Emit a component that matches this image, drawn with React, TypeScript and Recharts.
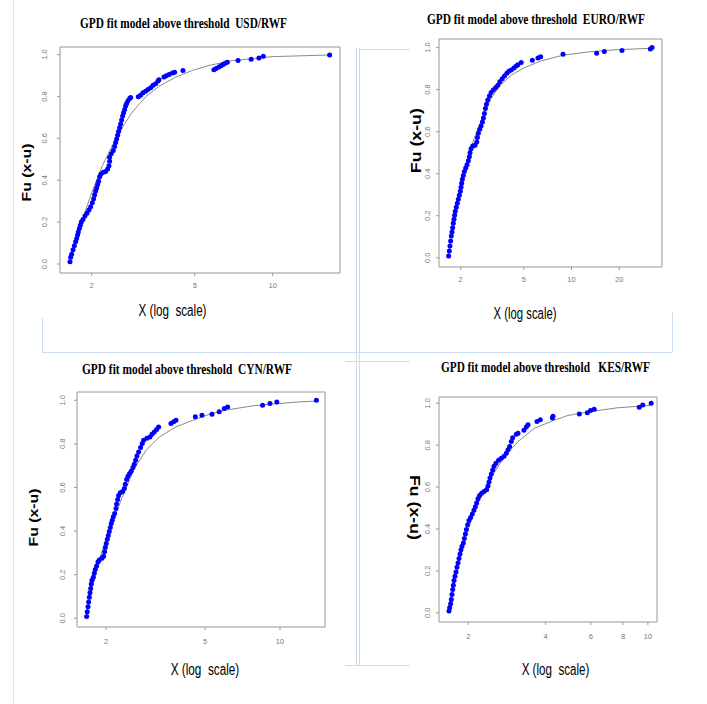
import React from 'react';
import { ScatterChart, Scatter, XAxis, YAxis, ReferenceArea } from 'recharts';

// [x, Fu(x-u)]
const usdPoints: [number, number][] = [
  [1.649, 0.011], [1.659, 0.032], [1.674, 0.047], [1.694, 0.068], [1.714, 0.087], [1.734, 0.106],
  [1.75, 0.122], [1.765, 0.138], [1.776, 0.153], [1.792, 0.169], [1.808, 0.185], [1.824, 0.201],
  [1.851, 0.213], [1.884, 0.229], [1.918, 0.242], [1.952, 0.258], [1.982, 0.273], [2.011, 0.292],
  [2.035, 0.311], [2.053, 0.33], [2.072, 0.348], [2.09, 0.363], [2.109, 0.379], [2.128, 0.395],
  [2.147, 0.416], [2.172, 0.43], [2.218, 0.438], [2.264, 0.442], [2.305, 0.453], [2.332, 0.469],
  [2.346, 0.49], [2.346, 0.51], [2.381, 0.526], [2.424, 0.542], [2.453, 0.561], [2.475, 0.58],
  [2.497, 0.597], [2.519, 0.615], [2.541, 0.632], [2.564, 0.651], [2.587, 0.668], [2.61, 0.687],
  [2.633, 0.706], [2.657, 0.722], [2.681, 0.738], [2.705, 0.754], [2.729, 0.766], [2.762, 0.779],
  [2.803, 0.79], [2.828, 0.795], [3.028, 0.798], [3.091, 0.806], [3.156, 0.817], [3.232, 0.825],
  [3.299, 0.833], [3.379, 0.842], [3.45, 0.853], [3.532, 0.861], [3.606, 0.874], [3.639, 0.88],
  [3.804, 0.893], [3.884, 0.899], [3.977, 0.905], [4.097, 0.912], [4.183, 0.916], [4.503, 0.924],
  [5.93, 0.927], [6.05, 0.933], [6.2, 0.94], [6.32, 0.946], [6.43, 0.953], [6.55, 0.958],
  [6.68, 0.963], [7.35, 0.971], [8.26, 0.978], [8.85, 0.984], [9.2, 0.992], [16.6, 0.998],
];
const usdCurve: [number, number][] = [
  [1.64, 0], [1.72, 0.09], [1.8, 0.17], [1.88, 0.245], [2.0, 0.34], [2.2, 0.47], [2.4, 0.565],
  [2.67, 0.665], [2.87, 0.725], [3.23, 0.798], [3.64, 0.848], [4.22, 0.892], [4.89, 0.924],
  [5.68, 0.948], [6.98, 0.971], [10, 0.99], [16.7, 0.998],
];

const euroPoints: [number, number][] = [
  [1.679, 0.008], [1.696, 0.032], [1.712, 0.056], [1.729, 0.08], [1.746, 0.103], [1.763, 0.122],
  [1.78, 0.143], [1.797, 0.164], [1.814, 0.183], [1.832, 0.202], [1.85, 0.221], [1.877, 0.24],
  [1.905, 0.259], [1.933, 0.278], [1.961, 0.297], [1.99, 0.316], [2.01, 0.335], [2.029, 0.354],
  [2.049, 0.373], [2.079, 0.392], [2.11, 0.411], [2.151, 0.427], [2.193, 0.443], [2.236, 0.462],
  [2.269, 0.481], [2.291, 0.5], [2.325, 0.519], [2.382, 0.532], [2.465, 0.535], [2.526, 0.551],
  [2.55, 0.572], [2.587, 0.592], [2.638, 0.611], [2.69, 0.627], [2.743, 0.646], [2.783, 0.665],
  [2.824, 0.687], [2.865, 0.71], [2.908, 0.73], [2.964, 0.751], [3.037, 0.77], [3.112, 0.786],
  [3.22, 0.799], [3.331, 0.81], [3.43, 0.821], [3.531, 0.837], [3.653, 0.852], [3.779, 0.865],
  [3.909, 0.878], [4.025, 0.887], [4.164, 0.894], [4.329, 0.903], [4.479, 0.913], [4.589, 0.919],
  [4.818, 0.929], [5.66, 0.94], [6.14, 0.951], [6.39, 0.957], [8.84, 0.968], [14.4, 0.973],
  [16.1, 0.981], [20.8, 0.986], [31.4, 0.994], [32.2, 1.0],
];
const euroCurve: [number, number][] = [
  [1.66, 0], [1.8, 0.15], [2.0, 0.32], [2.2, 0.45], [2.38, 0.548], [2.69, 0.651], [3.04, 0.746],
  [3.52, 0.818], [4.17, 0.869], [5.06, 0.905], [6.45, 0.937], [8.85, 0.964], [13, 0.98],
  [19.3, 0.99], [32.2, 0.997],
];

const cynPoints: [number, number][] = [
  [1.673, 0.008], [1.683, 0.03], [1.694, 0.053], [1.704, 0.075], [1.715, 0.096], [1.725, 0.117],
  [1.736, 0.137], [1.746, 0.157], [1.757, 0.175], [1.779, 0.188], [1.795, 0.206], [1.812, 0.224],
  [1.834, 0.24], [1.857, 0.258], [1.88, 0.267], [1.927, 0.275], [1.957, 0.285], [1.975, 0.305],
  [1.988, 0.325], [2.006, 0.343], [2.025, 0.362], [2.044, 0.38], [2.062, 0.398], [2.082, 0.417],
  [2.101, 0.435], [2.12, 0.45], [2.14, 0.466], [2.167, 0.481], [2.194, 0.504], [2.207, 0.524],
  [2.228, 0.545], [2.248, 0.563], [2.283, 0.576], [2.333, 0.582], [2.369, 0.595], [2.391, 0.615],
  [2.421, 0.637], [2.451, 0.652], [2.489, 0.664], [2.527, 0.676], [2.567, 0.692], [2.598, 0.707],
  [2.631, 0.725], [2.663, 0.744], [2.705, 0.763], [2.755, 0.783], [2.798, 0.802], [2.833, 0.817],
  [2.92, 0.826], [3.004, 0.832], [3.06, 0.844], [3.127, 0.855], [3.195, 0.866], [3.254, 0.878],
  [3.648, 0.893], [3.739, 0.901], [3.82, 0.908], [4.57, 0.924], [4.86, 0.931], [5.33, 0.936],
  [5.7, 0.947], [5.97, 0.962], [6.16, 0.969], [8.51, 0.977], [9.11, 0.985], [9.71, 0.992],
  [14.0, 1.0],
];
const cynCurve: [number, number][] = [
  [1.66, 0], [1.76, 0.14], [1.88, 0.27], [2.06, 0.404], [2.33, 0.557], [2.6, 0.687], [2.9, 0.771],
  [3.28, 0.832], [3.82, 0.878], [4.46, 0.908], [5.2, 0.936], [6.07, 0.955], [7.82, 0.975],
  [12, 0.993], [14, 0.996],
];

const kesPoints: [number, number][] = [
  [1.682, 0.008], [1.692, 0.024], [1.707, 0.043], [1.718, 0.063], [1.728, 0.087], [1.739, 0.111],
  [1.749, 0.132], [1.76, 0.154], [1.775, 0.174], [1.791, 0.195], [1.807, 0.217], [1.824, 0.238],
  [1.84, 0.259], [1.857, 0.281], [1.873, 0.301], [1.89, 0.317], [1.913, 0.333], [1.93, 0.354],
  [1.948, 0.376], [1.965, 0.397], [1.988, 0.42], [2.012, 0.44], [2.042, 0.455], [2.073, 0.471],
  [2.104, 0.489], [2.13, 0.506], [2.155, 0.524], [2.181, 0.544], [2.213, 0.56], [2.254, 0.57],
  [2.302, 0.579], [2.358, 0.587], [2.386, 0.605], [2.408, 0.624], [2.429, 0.643], [2.458, 0.662],
  [2.488, 0.682], [2.518, 0.7], [2.562, 0.714], [2.624, 0.728], [2.689, 0.738], [2.754, 0.747],
  [2.812, 0.762], [2.855, 0.778], [2.897, 0.794], [2.941, 0.817], [2.976, 0.836], [3.075, 0.852],
  [3.122, 0.857], [3.293, 0.871], [3.363, 0.887], [3.414, 0.897], [3.701, 0.913], [3.813, 0.922],
  [4.25, 0.93], [4.272, 0.938], [5.41, 0.949], [5.81, 0.955], [5.98, 0.965], [6.18, 0.971],
  [9.25, 0.981], [9.55, 0.992], [10.3, 1.0],
];
const kesCurve: [number, number][] = [
  [1.66, 0], [1.8, 0.2], [1.95, 0.36], [2.1, 0.48], [2.39, 0.625], [2.77, 0.746], [3.12, 0.817],
  [3.62, 0.881], [4.34, 0.92], [4.89, 0.942], [5.94, 0.96], [7.55, 0.978], [10.2, 0.99],
];

const yTicks = [0, 0.2, 0.4, 0.6, 0.8, 1.0];
const usdTicks = [2, 5, 10];
const euroTicks = [2, 5, 10, 20];
const cynTicks = [2, 5, 10];
const kesTicks = [2, 4, 6, 8, 10];

const toRows = (pts: [number, number][]) => pts.map(([x, y]) => ({ x, y }));

const PAD_L = 30;
const PAD_R = 6;
const PAD_T = 6;
const PAD_B = 26;
const tickFont = "'Liberation Sans', Arial, sans-serif";

interface PanelProps {
  left: number;
  top: number;
  width: number;
  height: number;
  xDomain: [number, number];
  yDomain: [number, number];
  xTicks: number[];
  points: [number, number][];
  curve: [number, number][];
  xLabelGap: number;
  yLabelGap: number;
}

function Panel(p: PanelProps) {
  const W = p.width + PAD_L + PAD_R;
  const H = p.height + PAD_T + PAD_B;
  return (
    <div style={{ position: 'absolute', left: p.left - PAD_L, top: p.top - PAD_T }}>
      <ScatterChart width={W} height={H} margin={{ top: PAD_T, right: PAD_R, left: 0, bottom: 0 }}>
        <XAxis
          type="number"
          dataKey="x"
          scale="log"
          domain={p.xDomain}
          allowDataOverflow
          ticks={p.xTicks}
          interval={0}
          height={PAD_B}
          axisLine={false}
          tickLine={{ stroke: '#999' }}
          tickSize={3}
          tickMargin={0}
          tick={(t: any) => (
            <text x={t.x} y={t.y - 3 + p.xLabelGap} textAnchor="middle" dominantBaseline="central"
              fontSize={7.5} fill="#777" fontFamily={tickFont}>
              {t.payload.value}
            </text>
          )}
        />
        <YAxis
          type="number"
          dataKey="y"
          domain={p.yDomain}
          allowDataOverflow
          ticks={yTicks}
          interval={0}
          width={PAD_L}
          axisLine={false}
          tickLine={{ stroke: '#999' }}
          tickSize={3}
          tickMargin={0}
          tick={(t: any) => {
            const bx = t.x + 3 - p.yLabelGap;
            return (
              <text x={bx} y={t.y} transform={`rotate(-90 ${bx} ${t.y})`} textAnchor="middle"
                fontSize={7.5} fill="#777" fontFamily={tickFont}>
                {Number(t.payload.value).toFixed(1)}
              </text>
            );
          }}
        />
        <ReferenceArea x1={p.xDomain[0]} x2={p.xDomain[1]} y1={p.yDomain[0]} y2={p.yDomain[1]}
          fill="none" fillOpacity={0} stroke="#969696" strokeWidth={1} ifOverflow="visible" />
        <Scatter data={toRows(p.curve)} line={{ stroke: '#8a8a8a', strokeWidth: 1 }}
          shape={() => <g />} isAnimationActive={false} />
        <Scatter data={toRows(p.points)} isAnimationActive={false}
          shape={(s: any) => <circle cx={s.cx} cy={s.cy} r={2.5} fill="#0000ff" />} />
      </ScatterChart>
    </div>
  );
}

const titleFont = "'Liberation Serif', 'Times New Roman', serif";
const labelFont = "'Liberation Sans', Arial, sans-serif";

function Title({ x, y, w, text }: { x: number; y: number; w: number; text: string }) {
  return (
    <text x={x} y={y} transform={`translate(0 ${y}) scale(1 1.18) translate(0 ${-y})`}
      fontFamily={titleFont} fontWeight="bold" fontSize={12.5} textLength={w}
      lengthAdjust="spacingAndGlyphs" xmlSpace="preserve">{text}</text>
  );
}

export default function App() {
  const deco = '#c9daf2';
  return (
    <div style={{ position: 'absolute', left: 0, top: 0, width: 707, height: 704, background: '#fff' }}>
      <Panel left={60} top={47} width={280} height={226} xDomain={[1.509, 18.2]} yDomain={[-0.043, 1.036]}
        xTicks={usdTicks} points={usdPoints} curve={usdCurve} xLabelGap={12.7} yLabelGap={12.5} />
      <Panel left={439} top={39} width={223} height={228} xDomain={[1.46, 37.2]} yDomain={[-0.044, 1.041]}
        xTicks={euroTicks} points={euroPoints} curve={euroCurve} xLabelGap={12} yLabelGap={8.8} />
      <Panel left={77} top={392} width={248} height={235} xDomain={[1.53, 15.16]} yDomain={[-0.04, 1.038]}
        xTicks={cynTicks} points={cynPoints} curve={cynCurve} xLabelGap={14.4} yLabelGap={11.8} />
      <Panel left={439} top={397} width={218} height={225} xDomain={[1.538, 10.85]} yDomain={[-0.044, 1.03]}
        xTicks={kesTicks} points={kesPoints} curve={kesCurve} xLabelGap={14} yLabelGap={8.5} />

      <svg width={707} height={704} style={{ position: 'absolute', left: 0, top: 0, pointerEvents: 'none' }}>
        {/* page frame lines */}
        <line x1={13.5} y1={0} x2={13.5} y2={704} stroke="#e2e2e2" />
        <line x1={42} y1={352.5} x2={672} y2={352.5} stroke={deco} />
        <line x1={42.5} y1={318} x2={42.5} y2={352} stroke={deco} />
        <line x1={672.5} y1={312} x2={672.5} y2={352} stroke={deco} />
        <line x1={356.5} y1={48} x2={356.5} y2={665} stroke={deco} />
        <line x1={359.5} y1={48} x2={359.5} y2={665} stroke={deco} />
        <line x1={359} y1={49.5} x2={410} y2={49.5} stroke={deco} />
        <line x1={345} y1={361.5} x2={410} y2={361.5} stroke={deco} />
        <line x1={345} y1={665.5} x2={410} y2={665.5} stroke={deco} />

        <Title x={80} y={28} w={207} text="GPD fit model above threshold  USD/RWF" />
        <Title x={427} y={24.5} w={218} text="GPD fit model above threshold  EURO/RWF" />
        <Title x={82} y={374.5} w={210} text="GPD fit model above threshold  CYN/RWF" />
        <Title x={441} y={372} w={209} text="GPD fit model above threshold   KES/RWF" />

        {/* y-axis titles */}
        <text x={26} y={172.5} transform="rotate(-90 26 172.5)" textAnchor="middle" dominantBaseline="central"
          fontFamily={labelFont} fontWeight="bold" fontSize={13} textLength={58} lengthAdjust="spacingAndGlyphs">Fu (x-u)</text>
        <text x={416} y={140.7} transform="rotate(-90 416 140.7)" textAnchor="middle" dominantBaseline="central"
          fontFamily={labelFont} fontWeight="bold" fontSize={14} textLength={65} lengthAdjust="spacingAndGlyphs">Fu (x-u)</text>
        <text x={33.5} y={517.5} transform="rotate(-90 33.5 517.5)" textAnchor="middle" dominantBaseline="central"
          fontFamily={labelFont} fontWeight="bold" fontSize={13} textLength={58} lengthAdjust="spacingAndGlyphs">Fu (x-u)</text>
        <text x={415} y={507.5} transform="rotate(90 415 507.5)" textAnchor="middle" dominantBaseline="central"
          fontFamily={labelFont} fontWeight="bold" fontSize={14} textLength={65} lengthAdjust="spacingAndGlyphs">Fu (x-u)</text>

        {/* x-axis titles */}
        <text x={172.5} y={316} textAnchor="middle" fontFamily={labelFont} fontSize={16} textLength={68}
          lengthAdjust="spacingAndGlyphs" xmlSpace="preserve">X (log  scale)</text>
        <text x={525} y={319} textAnchor="middle" fontFamily={labelFont} fontSize={16} textLength={63}
          lengthAdjust="spacingAndGlyphs" xmlSpace="preserve">X (log scale)</text>
        <text x={205} y={675} textAnchor="middle" fontFamily={labelFont} fontSize={16} textLength={68.6}
          lengthAdjust="spacingAndGlyphs" xmlSpace="preserve">X (log  scale)</text>
        <text x={555.5} y={675} textAnchor="middle" fontFamily={labelFont} fontSize={16} textLength={67.7}
          lengthAdjust="spacingAndGlyphs" xmlSpace="preserve">X (log  scale)</text>
      </svg>
    </div>
  );
}
